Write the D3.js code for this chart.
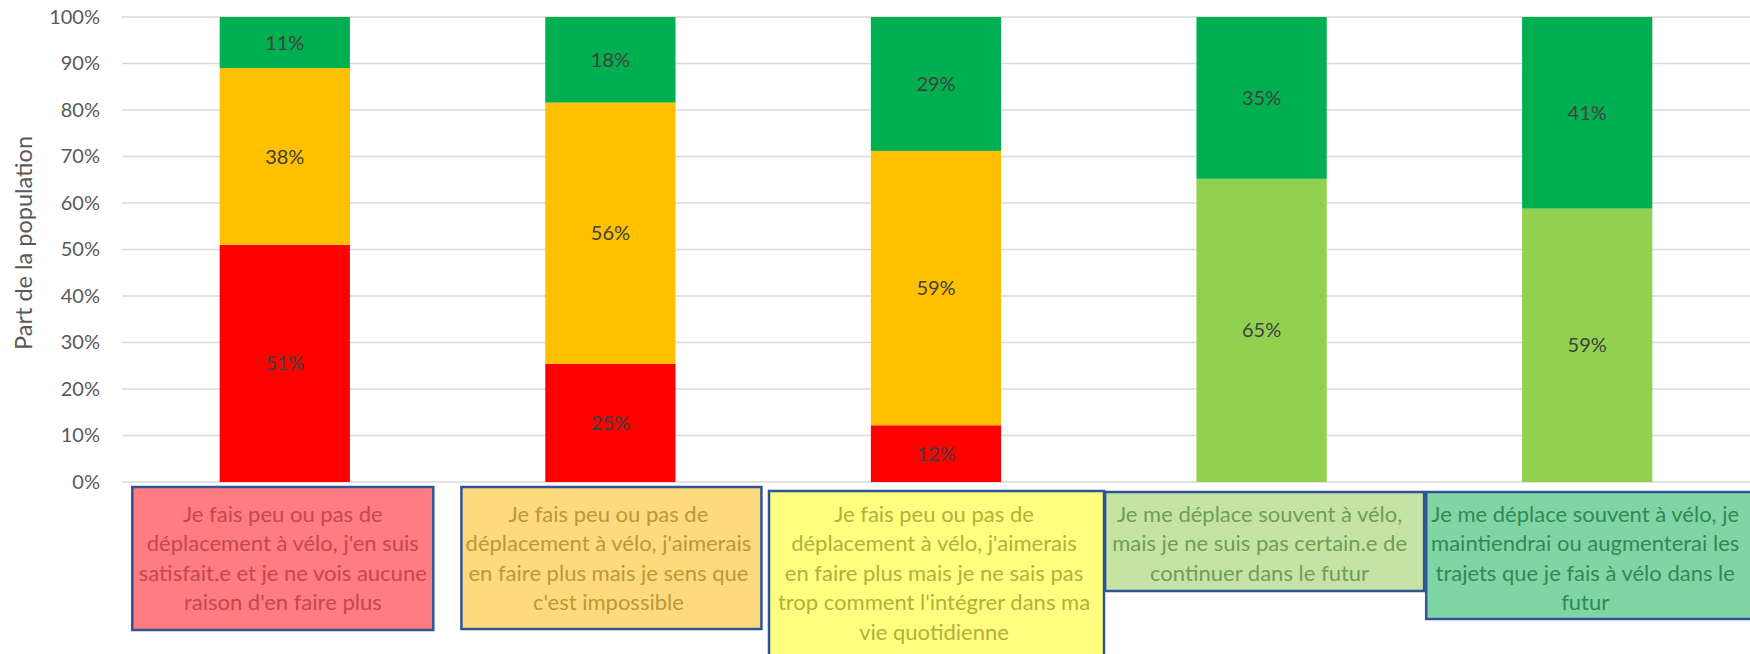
<!DOCTYPE html>
<html>
<head>
<meta charset="utf-8">
<script src="https://cdn.jsdelivr.net/npm/d3@7"></script>
<style>
  body { margin: 0; background: #fff; }
  svg { display: block; font-family: Lato, "Open Sans", sans-serif; }
</style>
</head>
<body>
<div id="chart"></div>
<script>
// Categories (text shown in the boxes under each bar, one entry per line)
const categories = [
    ["Je fais peu ou pas de", "déplacement à vélo, j'en suis", "satisfait.e et je ne vois aucune", "raison d'en faire plus"],
    ["Je fais peu ou pas de", "déplacement à vélo, j'aimerais", "en faire plus mais je sens que", "c'est impossible"],
    ["Je fais peu ou pas de", "déplacement à vélo, j'aimerais", "en faire plus mais je ne sais pas", "trop comment l'intégrer dans ma", "vie quotidienne"],
    ["Je me déplace souvent à vélo,", "mais je ne suis pas certain.e de", "continuer dans le futur"],
    ["Je me déplace souvent à vélo, je", "maintiendrai ou augmenterai les", "trajets que je fais à vélo dans le", "futur"]
];

// Series values (share of the population, %)
const redValues = [51, 25.4, 12.2, 0, 0];
const orangeValues = [38, 56.2, 59, 0, 0];
const lightGreenValues = [0, 0, 0, 65.2, 58.8];
const darkGreenValues = [11, 18.4, 28.8, 34.8, 41.2];

const yTicks = [0, 10, 20, 30, 40, 50, 60, 70, 80, 90, 100];

const seriesKeys = ["red", "orange", "lightGreen", "darkGreen"];
const seriesColors = { red: "#FF0000", orange: "#FFC000", lightGreen: "#92D050", darkGreen: "#00B050" };

// Box styling under each bar
const boxStyle = [
    { fill: "#FF7C80", text: "#C4484C", w: 301, top: 487, h: 143, dx: -2 },
    { fill: "#FFD97E", text: "#B99A36", w: 300, top: 487, h: 142, dx: 1 },
    { fill: "#FFFF7F", text: "#B1B13C", w: 335, top: 491, h: 175, dx: 0.5 },
    { fill: "#C6E3A6", text: "#6E9F55", w: 319, top: 492, h: 99, dx: 3 },
    { fill: "#7FD6A4", text: "#2F8A57", w: 340, top: 492, h: 127, dx: 9 }
];

const width = 1750, height = 654;
const plot = { left: 122, right: 1750, top: 17, bottom: 482 };

const data = categories.map((c, i) => ({
    idx: i,
    red: redValues[i],
    orange: orangeValues[i],
    lightGreen: lightGreenValues[i],
    darkGreen: darkGreenValues[i]
}));

const svg = d3.select("#chart")
    .append("svg")
    .attr("width", width)
    .attr("height", height);

const x = d3.scaleBand()
    .domain(data.map(d => d.idx))
    .range([plot.left, plot.right])
    .paddingInner(0.6)
    .paddingOuter(0.3);

const y = d3.scaleLinear()
    .domain([0, 100])
    .range([plot.bottom, plot.top]);

// Gridlines
svg.append("g")
    .selectAll("line")
    .data(yTicks)
    .enter().append("line")
    .attr("x1", plot.left)
    .attr("x2", plot.right)
    .attr("y1", d => y(d))
    .attr("y2", d => y(d))
    .attr("stroke", "#D9D9D9")
    .attr("stroke-width", 1.5);

// Y axis labels
const yAxis = svg.append("g")
    .attr("transform", `translate(${plot.left},0)`)
    .call(d3.axisLeft(y).tickValues(yTicks).tickFormat(d => d + "%").tickSize(0).tickPadding(22));
yAxis.select(".domain").remove();
yAxis.selectAll("text")
    .attr("fill", "#595959")
    .style("font-size", "20px")
    .style("font-family", "Lato, sans-serif");

// Y axis title
svg.append("text")
    .attr("transform", "translate(32,243) rotate(-90)")
    .attr("text-anchor", "middle")
    .attr("fill", "#595959")
    .style("font-size", "23.5px")
    .text("Part de la population");

// Stacked bars
const stacked = d3.stack().keys(seriesKeys)(data);

const layers = svg.append("g")
    .selectAll("g")
    .data(stacked)
    .enter().append("g")
    .attr("fill", d => seriesColors[d.key]);

layers.selectAll("rect")
    .data(d => d.filter(s => s[1] - s[0] > 0))
    .enter().append("rect")
    .attr("x", d => x(d.data.idx))
    .attr("y", d => y(d[1]))
    .attr("width", x.bandwidth())
    .attr("height", d => y(d[0]) - y(d[1]));

// Data labels
layers.selectAll("text")
    .data(d => d.filter(s => s[1] - s[0] > 0))
    .enter().append("text")
    .attr("x", d => x(d.data.idx) + x.bandwidth() / 2)
    .attr("y", d => y((d[0] + d[1]) / 2))
    .attr("dy", "0.35em")
    .attr("text-anchor", "middle")
    .attr("fill", "#404040")
    .style("font-size", "20px")
    .text(d => Math.round(d[1] - d[0]) + "%");

// Category boxes
const boxes = svg.append("g")
    .selectAll("g")
    .data(categories)
    .enter().append("g");

boxes.append("rect")
    .attr("x", (d, i) => x(i) + x.bandwidth() / 2 + boxStyle[i].dx - boxStyle[i].w / 2)
    .attr("y", (d, i) => boxStyle[i].top)
    .attr("width", (d, i) => boxStyle[i].w)
    .attr("height", (d, i) => boxStyle[i].h)
    .attr("fill", (d, i) => boxStyle[i].fill)
    .attr("stroke", "#2F5597")
    .attr("stroke-width", 2.5);

boxes.each(function(lines, i) {
    const g = d3.select(this);
    const cx = x(i) + x.bandwidth() / 2 - 2;
    lines.forEach((line, j) => {
        g.append("text")
            .attr("x", cx)
            .attr("y", 514 + j * 29.5)
            .attr("dy", "0.35em")
            .attr("text-anchor", "middle")
            .attr("fill", boxStyle[i].text)
            .style("font-size", "22px")
            .text(line);
    });
});
</script>
</body>
</html>
